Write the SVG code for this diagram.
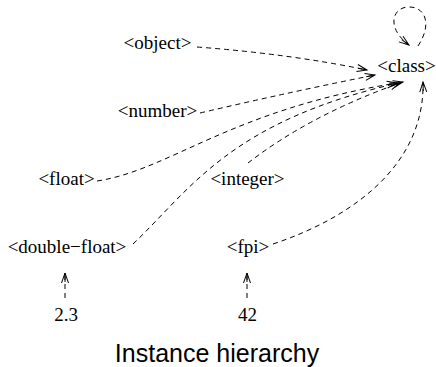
<svg xmlns="http://www.w3.org/2000/svg" width="436" height="367" viewBox="0 0 436 367">
<style>
.lbl{font-family:"Liberation Serif","Times New Roman",serif;font-size:19px;fill:#000;text-anchor:middle}
.title{font-family:"Liberation Sans",Arial,sans-serif;font-size:25px;fill:#000;text-anchor:middle}
.e{fill:none;stroke:#000;stroke-width:1;stroke-dasharray:5,4}
</style>
<defs>
<marker id="ah" markerUnits="userSpaceOnUse" markerWidth="12" markerHeight="9" refX="10" refY="3.5" orient="auto" overflow="visible">
<path d="M0,0 L10,3.5 L0,7 M1,3.5 L10,3.5" fill="none" stroke="#000" stroke-width="1" stroke-dasharray="none"/>
</marker>
</defs>
<rect width="436" height="367" fill="#fff"/>
<g id="edges">
<path class="e" d="M197,47 Q290,54 367,70" marker-end="url(#ah)"/>
<path class="e" d="M200,113 Q290,92 375,75" marker-end="url(#ah)"/>
<path class="e" d="M97,181 C170,170 230,110 397,83" marker-end="url(#ah)"/>
<path class="e" d="M133,244 C190,190 230,120 403,82" marker-end="url(#ah)"/>
<path class="e" d="M248,163 Q310,115 400,83" marker-end="url(#ah)"/>
<path class="e" d="M273,244 C360,215 425,160 423,82" marker-end="url(#ah)"/>
<path class="e" d="M418,46 C432,25 426,7 409,7 C392,7 386,28 409,45" marker-end="url(#ah)"/>
<path class="e" d="M65,298 L65,273" marker-end="url(#ah)"/>
<path class="e" d="M247,298 L247,273" marker-end="url(#ah)"/>
</g>
<g id="class"><text class="lbl" x="406.5" y="72">&lt;class&gt;</text></g>
<g id="object"><text class="lbl" x="157.5" y="49">&lt;object&gt;</text></g>
<g id="number"><text class="lbl" x="157.5" y="117">&lt;number&gt;</text></g>
<g id="float"><text class="lbl" x="66.5" y="185">&lt;float&gt;</text></g>
<g id="integer"><text class="lbl" x="247.5" y="185">&lt;integer&gt;</text></g>
<g id="double-float"><text class="lbl" x="67" y="253">&lt;double−float&gt;</text></g>
<g id="fpi"><text class="lbl" x="248" y="253">&lt;fpi&gt;</text></g>
<g id="v23"><text class="lbl" x="66" y="321">2.3</text></g>
<g id="v42"><text class="lbl" x="247.5" y="321">42</text></g>
<text class="title" x="217" y="362">Instance hierarchy</text>
</svg>
